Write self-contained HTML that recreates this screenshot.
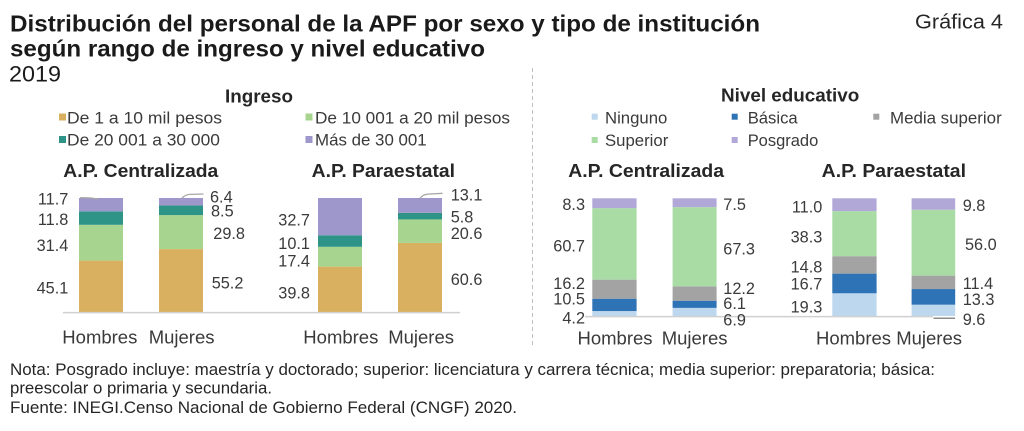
<!DOCTYPE html>
<html>
<head>
<meta charset="utf-8">
<style>
  html,body{margin:0;padding:0;background:#fff;}
  svg{display:block;}
  text{font-family:"Liberation Sans",Arial,sans-serif;}
  .t{font-weight:bold;fill:#1a1a1a;}
  .lbl{font-size:16.3px;fill:#3a3a3a;}
  .cat{font-size:18.5px;fill:#3a3a3a;}
  .leg{font-size:17px;fill:#3a3a3a;}
  .sub{font-size:18.8px;font-weight:bold;fill:#262626;}
  .note{font-size:16.3px;fill:#262626;}
</style>
</head>
<body>
<svg width="1024" height="431" viewBox="0 0 1024 431" xmlns="http://www.w3.org/2000/svg">
  <rect width="1024" height="431" fill="#fff"/>

  <!-- Title -->
  <text class="t" x="10" y="31.7" font-size="23.3" textLength="750" lengthAdjust="spacingAndGlyphs">Distribución del personal de la APF por sexo y tipo de institución</text>
  <text class="t" x="10" y="56.7" font-size="23.3" textLength="475" lengthAdjust="spacingAndGlyphs">según rango de ingreso y nivel educativo</text>
  <text x="9" y="81.7" font-size="22" fill="#1a1a1a" textLength="52" lengthAdjust="spacingAndGlyphs">2019</text>
  <text x="915" y="28.5" font-size="20" fill="#262626" textLength="88" lengthAdjust="spacingAndGlyphs">Gráfica 4</text>

  <!-- Separator -->
  <line x1="532.5" y1="68" x2="532.5" y2="348" stroke="#BFBFBF" stroke-width="1" stroke-dasharray="4,3"/>

  <!-- Left legend -->
  <text class="sub" x="225" y="102.7" textLength="68" lengthAdjust="spacingAndGlyphs">Ingreso</text>
  <rect x="59" y="113.5" width="7" height="7" fill="#D9B05F"/>
  <text class="leg" x="67" y="123.3" textLength="155" lengthAdjust="spacingAndGlyphs">De 1 a 10 mil pesos</text>
  <rect x="305.5" y="113.5" width="7" height="7" fill="#A7D58F"/>
  <text class="leg" x="315" y="123.3" textLength="195" lengthAdjust="spacingAndGlyphs">De 10 001 a 20 mil pesos</text>
  <rect x="59" y="136" width="7" height="7" fill="#2F9488"/>
  <text class="leg" x="67" y="145.7" textLength="153" lengthAdjust="spacingAndGlyphs">De 20 001 a 30 000</text>
  <rect x="305.5" y="136" width="7" height="7" fill="#9D97CB"/>
  <text class="leg" x="315" y="145.7" textLength="111.7" lengthAdjust="spacingAndGlyphs">Más de 30 001</text>

  <text class="sub" x="63.3" y="177" textLength="155" lengthAdjust="spacingAndGlyphs">A.P. Centralizada</text>
  <text class="sub" x="311.7" y="177" textLength="143.3" lengthAdjust="spacingAndGlyphs">A.P. Paraestatal</text>

  <!-- Right legend -->
  <text class="sub" x="721" y="101.7" textLength="138.3" lengthAdjust="spacingAndGlyphs">Nivel educativo</text>
  <rect x="591.7" y="113.7" width="6" height="6" fill="#BDD7EE"/>
  <text class="leg" x="605" y="123.3" textLength="62.3" lengthAdjust="spacingAndGlyphs">Ninguno</text>
  <rect x="731.7" y="113.7" width="6" height="6" fill="#2E73B5"/>
  <text class="leg" x="747.7" y="123.3" textLength="50" lengthAdjust="spacingAndGlyphs">Básica</text>
  <rect x="873.3" y="113.7" width="6" height="6" fill="#A3A3A3"/>
  <text class="leg" x="890" y="123.3" textLength="111.7" lengthAdjust="spacingAndGlyphs">Media superior</text>
  <rect x="591.7" y="137" width="6" height="6" fill="#A8DCA4"/>
  <text class="leg" x="605" y="146" textLength="63.3" lengthAdjust="spacingAndGlyphs">Superior</text>
  <rect x="731.7" y="137" width="6" height="6" fill="#B1A8D8"/>
  <text class="leg" x="747.7" y="146" textLength="70.6" lengthAdjust="spacingAndGlyphs">Posgrado</text>

  <text class="sub" x="568.3" y="177" textLength="155.7" lengthAdjust="spacingAndGlyphs">A.P. Centralizada</text>
  <text class="sub" x="821.7" y="177" textLength="144.3" lengthAdjust="spacingAndGlyphs">A.P. Paraestatal</text>

  <!-- LEFT CHARTS: bars -->
  <rect x="79" y="260.59" width="44" height="51.41" fill="#D9B05F"/>
  <rect x="79" y="224.79" width="44" height="35.8" fill="#A7D58F"/>
  <rect x="79" y="211.34" width="44" height="13.45" fill="#2F9488"/>
  <rect x="79" y="198" width="44" height="13.34" fill="#9D97CB"/>

  <rect x="159" y="249.07" width="44" height="62.93" fill="#D9B05F"/>
  <rect x="159" y="215.1" width="44" height="33.97" fill="#A7D58F"/>
  <rect x="159" y="205.41" width="44" height="9.69" fill="#2F9488"/>
  <rect x="159" y="198" width="44" height="7.41" fill="#9D97CB"/>

  <rect x="318" y="266.63" width="44" height="45.37" fill="#D9B05F"/>
  <rect x="318" y="246.79" width="44" height="19.84" fill="#A7D58F"/>
  <rect x="318" y="235.28" width="44" height="11.51" fill="#2F9488"/>
  <rect x="318" y="198" width="44" height="37.28" fill="#9D97CB"/>

  <rect x="398" y="242.92" width="44" height="69.08" fill="#D9B05F"/>
  <rect x="398" y="219.44" width="44" height="23.48" fill="#A7D58F"/>
  <rect x="398" y="212.83" width="44" height="6.61" fill="#2F9488"/>
  <rect x="398" y="198" width="44" height="14.83" fill="#9D97CB"/>

  <line x1="63" y1="312.6" x2="460" y2="312.6" stroke="#D0D0D0" stroke-width="1.5"/>

  <!-- Left labels -->
  <g class="lbl" text-anchor="end">
    <text x="68.3" y="204.3">11.7</text>
    <text x="68.3" y="225">11.8</text>
    <text x="68.3" y="251">31.4</text>
    <text x="68.3" y="293.3">45.1</text>
    <text x="310" y="225.7">32.7</text>
    <text x="310" y="249">10.1</text>
    <text x="310" y="266.7">17.4</text>
    <text x="310" y="298.3">39.8</text>
  </g>
  <g class="lbl">
    <text x="210" y="202.3">6.4</text>
    <text x="211" y="216.7">8.5</text>
    <text x="213.3" y="239">29.8</text>
    <text x="211.7" y="288.3">55.2</text>
    <text x="450.7" y="200.7">13.1</text>
    <text x="450.7" y="222.7">5.8</text>
    <text x="450.7" y="239">20.6</text>
    <text x="450.7" y="285">60.6</text>
  </g>
  <path d="M80,197.8 Q92,197.4 98,199.2" fill="none" stroke="#A6A6A6" stroke-width="1.3"/>
  <path d="M181.7,198.5 Q185,194.6 190,194.4 L203.5,194" fill="none" stroke="#A6A6A6" stroke-width="1.3"/>
  <path d="M420,198.3 Q423,194.4 428,194.1 L442.5,193.3" fill="none" stroke="#A6A6A6" stroke-width="1.3"/>

  <g class="cat">
    <text x="62.3" y="343.4">Hombres</text>
    <text x="214.5" y="343.4" text-anchor="end">Mujeres</text>
    <text x="303.3" y="343.4">Hombres</text>
    <text x="454" y="343.4" text-anchor="end">Mujeres</text>
  </g>

  <!-- RIGHT CHARTS: bars -->
  <rect x="592.3" y="311.06" width="44.3" height="4.94" fill="#BDD7EE"/>
  <rect x="592.3" y="298.7" width="44.3" height="12.36" fill="#2E73B5"/>
  <rect x="592.3" y="279.63" width="44.3" height="19.07" fill="#A3A3A3"/>
  <rect x="592.3" y="208.19" width="44.3" height="71.44" fill="#A8DCA4"/>
  <rect x="592.3" y="198.3" width="44.3" height="9.89" fill="#B1A8D8"/>

  <rect x="672.6" y="307.88" width="44" height="8.12" fill="#BDD7EE"/>
  <rect x="672.6" y="300.7" width="44" height="7.18" fill="#2E73B5"/>
  <rect x="672.6" y="286.34" width="44" height="14.36" fill="#A3A3A3"/>
  <rect x="672.6" y="207.13" width="44" height="79.21" fill="#A8DCA4"/>
  <rect x="672.6" y="198.3" width="44" height="8.83" fill="#B1A8D8"/>

  <rect x="832.3" y="293.28" width="44.3" height="22.72" fill="#BDD7EE"/>
  <rect x="832.3" y="273.62" width="44.3" height="19.66" fill="#2E73B5"/>
  <rect x="832.3" y="256.2" width="44.3" height="17.42" fill="#A3A3A3"/>
  <rect x="832.3" y="211.12" width="44.3" height="45.08" fill="#A8DCA4"/>
  <rect x="832.3" y="198.3" width="44.3" height="12.82" fill="#B1A8D8"/>

  <rect x="911.6" y="304.7" width="43.6" height="11.3" fill="#BDD7EE"/>
  <rect x="911.6" y="289.05" width="43.6" height="15.65" fill="#2E73B5"/>
  <rect x="911.6" y="275.63" width="43.6" height="13.42" fill="#A3A3A3"/>
  <rect x="911.6" y="209.72" width="43.6" height="65.91" fill="#A8DCA4"/>
  <rect x="911.6" y="198.3" width="43.6" height="11.42" fill="#B1A8D8"/>

  <line x1="585" y1="316.6" x2="933" y2="316.6" stroke="#D0D0D0" stroke-width="1.5"/>
  <line x1="933.5" y1="318.3" x2="955" y2="318.3" stroke="#8C8C8C" stroke-width="1.5"/>

  <!-- Right labels -->
  <g class="lbl" text-anchor="end">
    <text x="585" y="210">8.3</text>
    <text x="585" y="251.7">60.7</text>
    <text x="585" y="289">16.2</text>
    <text x="585" y="304.3">10.5</text>
    <text x="585" y="323.3">4.2</text>
    <text x="822.3" y="212.3">11.0</text>
    <text x="822.3" y="242.3">38.3</text>
    <text x="822.3" y="272.3">14.8</text>
    <text x="822.3" y="289.3">16.7</text>
    <text x="822.3" y="312.3">19.3</text>
  </g>
  <g class="lbl">
    <text x="723.3" y="210">7.5</text>
    <text x="723.3" y="254.3">67.3</text>
    <text x="723.3" y="294">12.2</text>
    <text x="723.3" y="309">6.1</text>
    <text x="723.3" y="325.7">6.9</text>
    <text x="962.7" y="211">9.8</text>
    <text x="965" y="250">56.0</text>
    <text x="962.7" y="289">11.4</text>
    <text x="962.7" y="305">13.3</text>
    <text x="962.7" y="325">9.6</text>
  </g>

  <g class="cat">
    <text x="577.5" y="344.5">Hombres</text>
    <text x="727.5" y="344.5" text-anchor="end">Mujeres</text>
    <text x="816" y="344.5">Hombres</text>
    <text x="962" y="344.5" text-anchor="end">Mujeres</text>
  </g>

  <!-- Footnotes -->
  <text class="note" x="10" y="375" textLength="925" lengthAdjust="spacingAndGlyphs">Nota: Posgrado incluye: maestría y doctorado; superior: licenciatura y carrera técnica; media superior: preparatoria; básica:</text>
  <text class="note" x="10" y="393.5" textLength="262" lengthAdjust="spacingAndGlyphs">preescolar o primaria y secundaria.</text>
  <text class="note" x="10" y="413" textLength="507" lengthAdjust="spacingAndGlyphs">Fuente: INEGI.Censo Nacional de Gobierno Federal (CNGF) 2020.</text>
</svg>
</body>
</html>
